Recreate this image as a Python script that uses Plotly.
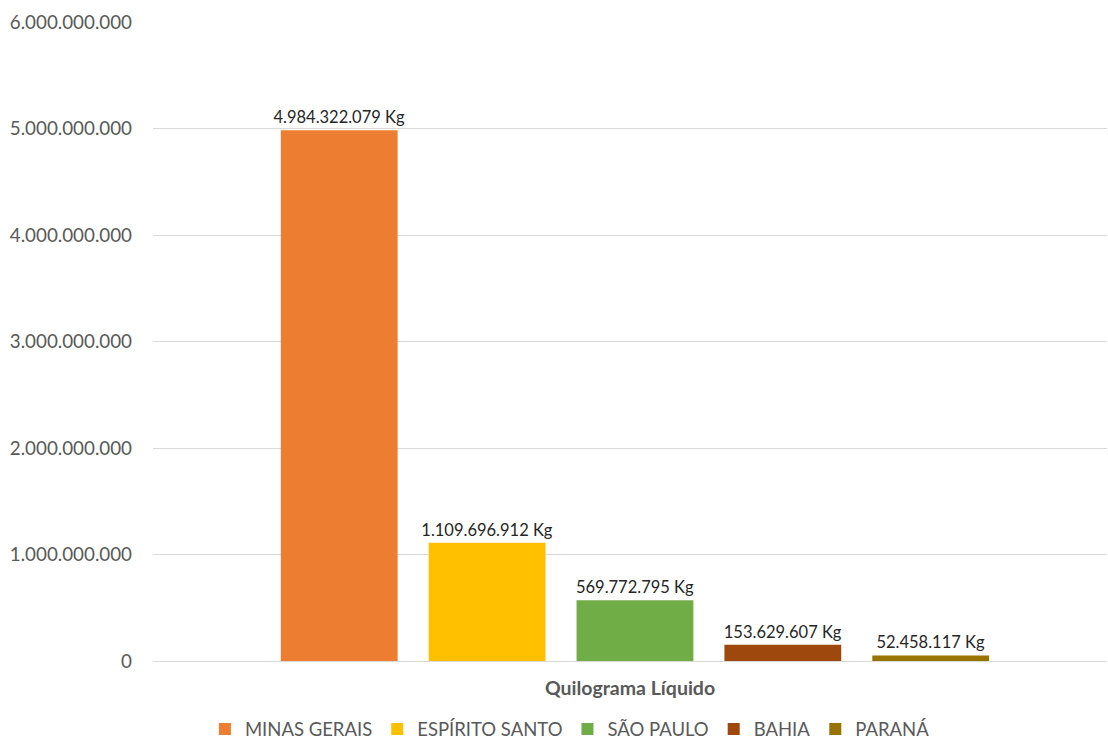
import plotly.graph_objects as go

# Net weight (kg) by state
categoria = ["Quilograma Líquido"]
estados = ["MINAS GERAIS", "ESPÍRITO SANTO", "SÃO PAULO", "BAHIA", "PARANÁ"]
quilogramas = [4984322079, 1109696912, 569772795, 153629607, 52458117]
cores = ["#ED7D31", "#FFC000", "#70AD47", "#9E480E", "#997300"]

FONT = "Lato"

fig = go.Figure()
for nome, valor, cor in zip(estados, quilogramas, cores):
    fig.add_trace(go.Bar(
        name=nome,
        x=categoria,
        y=[valor],
        marker=dict(color=cor, line=dict(width=0)),
        texttemplate="%{y:,d} Kg",
        textposition="outside",
        constraintext="none",
        textfont=dict(family=FONT, size=16.5, color="#262626"),
        cliponaxis=False,
        hoverinfo="skip",
    ))

fig.update_layout(
    width=1108,
    height=740,
    margin=dict(l=153, r=1, t=22, b=79, autoexpand=False),
    paper_bgcolor="white",
    plot_bgcolor="white",
    separators=",.",
    barmode="group",
    bargap=0.225,
    bargroupgap=0.21,
    font=dict(family=FONT, color="#595959"),
    showlegend=True,
    legend=dict(
        orientation="h",
        x=0.437, xanchor="center",
        y=-0.107, yanchor="middle",
        font=dict(family=FONT, size=18.5, color="#595959"),
        itemwidth=30,
        traceorder="normal",
    ),
)

fig.update_xaxes(
    range=[-0.5052, 0.4948],
    automargin=False,
    showticklabels=False,
    ticks="",
    showgrid=False,
    showline=False,
    zeroline=False,
    title=dict(
        text="<b>Quilograma Líquido</b>",
        font=dict(family=FONT, size=19.5, color="#595959"),
        standoff=20,
    ),
)

fig.update_yaxes(
    range=[0, 6000000000],
    dtick=1000000000,
    tickformat=",d",
    automargin=False,
    showgrid=True,
    gridcolor="#D9D9D9",
    gridwidth=1,
    zeroline=True,
    zerolinecolor="#D9D9D9",
    zerolinewidth=1,
    showline=False,
    ticks="",
    ticklabelstandoff=20,
    tickfont=dict(family=FONT, size=18.8, color="#595959"),
)

fig.write_html("out.html")
